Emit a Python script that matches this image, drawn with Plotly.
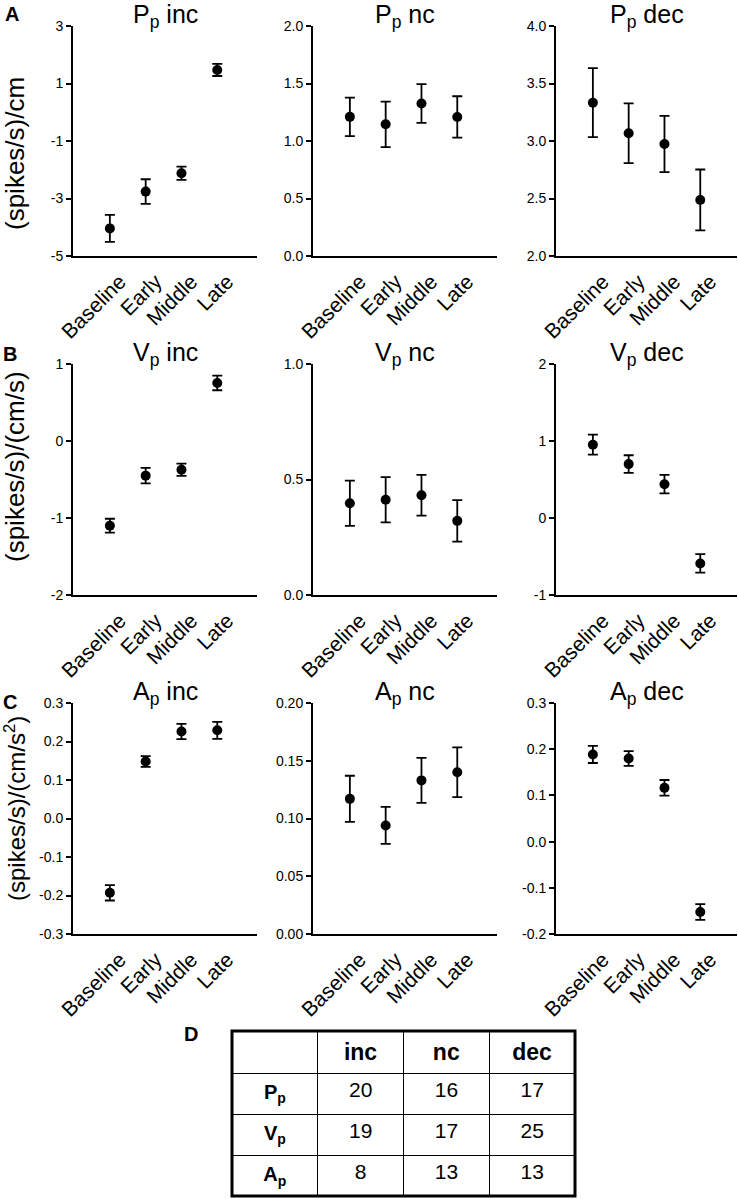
import plotly.graph_objects as go

# ---------------- data ----------------
categories = ["Baseline", "Early", "Middle", "Late"]

Pp_inc_mean = [-4.04, -2.76, -2.12, 1.47]
Pp_inc_err = [0.47, 0.43, 0.23, 0.21]
Pp_nc_mean = [1.21, 1.145, 1.326, 1.209]
Pp_nc_err = [0.167, 0.198, 0.168, 0.18]
Pp_dec_mean = [3.333, 3.067, 2.974, 2.487]
Pp_dec_err = [0.30, 0.26, 0.245, 0.265]

Vp_inc_mean = [-1.10, -0.45, -0.373, 0.754]
Vp_inc_err = [0.09, 0.10, 0.08, 0.095]
Vp_nc_mean = [0.397, 0.412, 0.432, 0.321]
Vp_nc_err = [0.098, 0.098, 0.088, 0.09]
Vp_dec_mean = [0.952, 0.70, 0.439, -0.59]
Vp_dec_err = [0.13, 0.115, 0.12, 0.12]

Ap_inc_mean = [-0.193, 0.148, 0.226, 0.229]
Ap_inc_err = [0.02, 0.014, 0.02, 0.022]
Ap_nc_mean = [0.117, 0.094, 0.133, 0.140]
Ap_nc_err = [0.02, 0.016, 0.0195, 0.0215]
Ap_dec_mean = [0.1886, 0.18, 0.1163, -0.1525]
Ap_dec_err = [0.0185, 0.016, 0.017, 0.017]

Pp_inc_ticks = [-5, -3, -1, 1, 3]
Pp_inc_ticktext = ["-5", "-3", "-1", "1", "3"]
Pp_nc_ticks = [0.0, 0.5, 1.0, 1.5, 2.0]
Pp_nc_ticktext = ["0.0", "0.5", "1.0", "1.5", "2.0"]
Pp_dec_ticks = [2.0, 2.5, 3.0, 3.5, 4.0]
Pp_dec_ticktext = ["2.0", "2.5", "3.0", "3.5", "4.0"]
Vp_inc_ticks = [-2, -1, 0, 1]
Vp_inc_ticktext = ["-2", "-1", "0", "1"]
Vp_nc_ticks = [0.0, 0.5, 1.0]
Vp_nc_ticktext = ["0.0", "0.5", "1.0"]
Vp_dec_ticks = [-1, 0, 1, 2]
Vp_dec_ticktext = ["-1", "0", "1", "2"]
Ap_inc_ticks = [-0.3, -0.2, -0.1, 0.0, 0.1, 0.2, 0.3]
Ap_inc_ticktext = ["-0.3", "-0.2", "-0.1", "0.0", "0.1", "0.2", "0.3"]
Ap_nc_ticks = [0.0, 0.05, 0.10, 0.15, 0.20]
Ap_nc_ticktext = ["0.00", "0.05", "0.10", "0.15", "0.20"]
Ap_dec_ticks = [-0.2, -0.1, 0.0, 0.1, 0.2, 0.3]
Ap_dec_ticktext = ["-0.2", "-0.1", "0.0", "0.1", "0.2", "0.3"]

panel_titles = [
    ["P<sub>p</sub> inc", "P<sub>p</sub> nc", "P<sub>p</sub> dec"],
    ["V<sub>p</sub> inc", "V<sub>p</sub> nc", "V<sub>p</sub> dec"],
    ["A<sub>p</sub> inc", "A<sub>p</sub> nc", "A<sub>p</sub> dec"],
]
y_titles = ["(spikes/s)/cm", "(spikes/s)/(cm/s)", "(spikes/s)/(cm/s<sup>2</sup>)"]

table_header = ["", "<b>inc</b>", "<b>nc</b>", "<b>dec</b>"]
table_rows = ["<b>P<sub>p</sub></b>", "<b>V<sub>p</sub></b>", "<b>A<sub>p</sub></b>"]
count_inc = [20, 19, 8]
count_nc = [16, 17, 13]
count_dec = [17, 25, 13]

panels = [
    [(Pp_inc_mean, Pp_inc_err, [-5, 3], Pp_inc_ticks, Pp_inc_ticktext),
     (Pp_nc_mean, Pp_nc_err, [0, 2], Pp_nc_ticks, Pp_nc_ticktext),
     (Pp_dec_mean, Pp_dec_err, [2, 4], Pp_dec_ticks, Pp_dec_ticktext)],
    [(Vp_inc_mean, Vp_inc_err, [-2, 1], Vp_inc_ticks, Vp_inc_ticktext),
     (Vp_nc_mean, Vp_nc_err, [0, 1], Vp_nc_ticks, Vp_nc_ticktext),
     (Vp_dec_mean, Vp_dec_err, [-1, 2], Vp_dec_ticks, Vp_dec_ticktext)],
    [(Ap_inc_mean, Ap_inc_err, [-0.3, 0.3], Ap_inc_ticks, Ap_inc_ticktext),
     (Ap_nc_mean, Ap_nc_err, [0, 0.2], Ap_nc_ticks, Ap_nc_ticktext),
     (Ap_dec_mean, Ap_dec_err, [-0.2, 0.3], Ap_dec_ticks, Ap_dec_ticktext)],
]

# ---------------- layout geometry (pixels) ----------------
W, H = 738, 1199
FONT = "Liberation Sans, Arial, sans-serif"
col_px = [(73, 257), (313, 497), (556, 737)]
row_px = [(26, 256), (364, 595), (703, 934)]
STEP = 35.8  # px per category


def px_x(x):
    return x / W


def px_y(y):
    return 1 - y / H


fig = go.Figure()
layout = dict(
    width=W, height=H,
    margin=dict(l=0, r=0, t=0, b=0, autoexpand=False),
    paper_bgcolor="white", plot_bgcolor="white",
    showlegend=False,
    font=dict(family=FONT, color="black"),
)
annotations = []
idx = 0
for r in range(3):
    for c in range(3):
        idx += 1
        mean, err, yr, tv, tt = panels[r][c]
        xa = "x" if idx == 1 else f"x{idx}"
        ya = "y" if idx == 1 else f"y{idx}"
        fig.add_trace(go.Scatter(
            x=categories, y=mean, mode="markers",
            marker=dict(color="black", size=10),
            error_y=dict(type="data", array=err, visible=True,
                         color="black", thickness=1.8, width=5),
            xaxis=xa, yaxis=ya, hoverinfo="skip",
        ))
        x0, x1 = col_px[c]
        y0, y1 = row_px[r]
        layout["xaxis" if idx == 1 else f"xaxis{idx}"] = dict(
            domain=[px_x(x0), px_x(x1)], anchor=ya, automargin=False,
            type="category", categoryorder="array", categoryarray=categories,
            range=[-1.03, -1.03 + (x1 - x0) / STEP],
            showline=True, linecolor="black", linewidth=2,
            ticks="", showgrid=False, zeroline=False,
            tickangle=-45, tickfont=dict(size=21, family=FONT, color="black"),
            ticklabelshift=10, ticklabelstandoff=3,
            fixedrange=True,
        )
        layout["yaxis" if idx == 1 else f"yaxis{idx}"] = dict(
            domain=[px_y(y1), px_y(y0)], anchor=xa, automargin=False,
            range=yr, tickvals=tv, ticktext=tt,
            showline=True, linecolor="black", linewidth=2,
            ticks="outside", ticklen=5, tickwidth=1.5, tickcolor="black",
            showgrid=False, zeroline=False,
            tickfont=dict(size=14, family=FONT, color="black"),
            fixedrange=True,
        )
        annotations.append(dict(
            text=panel_titles[r][c], xref="paper", yref="paper",
            x=px_x((x0 + x1) / 2), y=px_y(y0 - 10),
            xanchor="center", yanchor="middle", showarrow=False,
            font=dict(size=25, family=FONT, color="black"),
        ))

y_title_centers = [154, 467, 809]
y_title_sizes = [26, 26, 24]
for r in range(3):
    annotations.append(dict(
        text=y_titles[r], xref="paper", yref="paper",
        x=px_x(15), y=px_y(y_title_centers[r]), textangle=-90,
        xanchor="center", yanchor="middle", showarrow=False,
        font=dict(size=y_title_sizes[r], family=FONT, color="black"),
    ))

panel_letters = [("A", 12, 14), ("B", 10, 354), ("C", 10, 702), ("D", 191, 1034)]
for t, x, y in panel_letters:
    annotations.append(dict(
        text=f"<b>{t}</b>", xref="paper", yref="paper",
        x=px_x(x), y=px_y(y), xanchor="center", yanchor="middle",
        showarrow=False, font=dict(size=20, family=FONT, color="black"),
    ))

# table
tx0, tx1, ty0, ty1 = 232, 575, 1031, 1196
fig.add_trace(go.Table(
    domain=dict(x=[px_x(tx0), px_x(tx1)], y=[px_y(ty1), px_y(ty0)]),
    columnwidth=[1, 1, 1, 1],
    header=dict(values=table_header, height=41, align="center",
                line=dict(color="black", width=1), fill=dict(color="white"),
                font=dict(size=23, family=FONT, color="black")),
    cells=dict(values=[table_rows, count_inc, count_nc, count_dec],
               height=41, align="center",
               line=dict(color="black", width=1), fill=dict(color="white"),
               font=dict(size=[20, 21, 21, 21], family=FONT, color="black")),
))

layout["annotations"] = annotations
layout["shapes"] = [dict(type="rect", xref="paper", yref="paper",
                         x0=px_x(tx0), x1=px_x(tx1), y0=px_y(ty1), y1=px_y(ty0),
                         line=dict(color="black", width=3))]
fig.update_layout(**layout)
fig.write_html("out.html",
               config={"displayModeBar": False, "staticPlot": False},
               post_script="document.body.style.margin='0';document.body.style.overflow='hidden';")
